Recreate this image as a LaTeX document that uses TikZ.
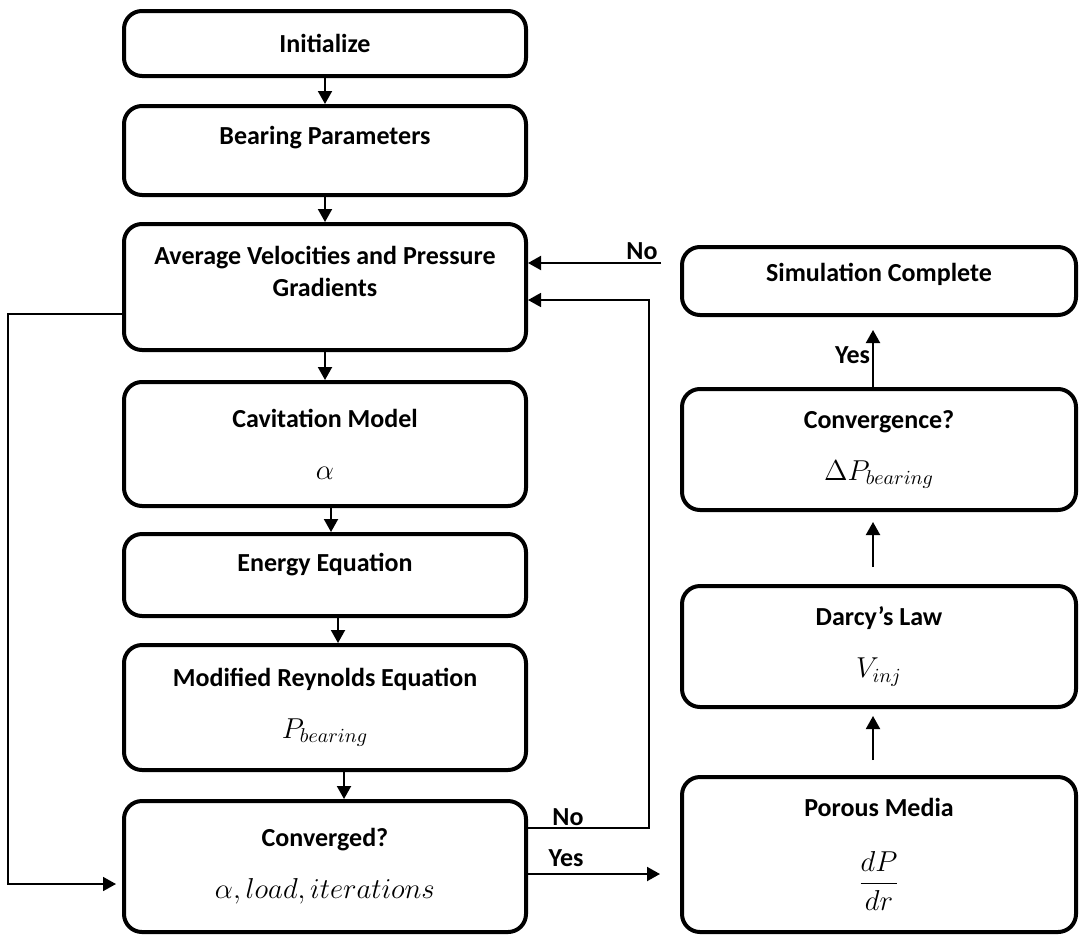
\documentclass[tikz,border=0pt]{standalone}
\usepackage{fontspec}
\setmainfont{Carlito}
\usetikzlibrary{arrows.meta,calc}

\newcommand{\mathlbl}[1]{{\fontsize{14}{16}\selectfont$#1$}}

\tikzset{
  box/.style={draw, line width=2pt, rounded corners=9pt, inner sep=0pt, align=center,
    font=\fontsize{13}{16}\selectfont\bfseries},
  lbox/.style={box, minimum width=201pt},
  rbox/.style={box, minimum width=197pt},
  flow/.style={line width=1pt, -{Triangle[length=6.5pt,width=7pt]}},
  back/.style={line width=0.8pt, -{Triangle[length=6.5pt,width=7pt]}},
  tag/.style={font=\fontsize{13}{16}\selectfont\bfseries, inner sep=1pt}
}

\begin{document}
\begin{tikzpicture}[x=0.5pt,y=-0.5pt]
	\useasboundingbox (0,0) rectangle (1080,937);
	% solver loop
	\node [lbox, minimum height=32.5pt] (init) at (325,43.5) {Initialize};
	\node [lbox, minimum height=44.5pt, text depth=15pt] (bear) at (325,150.5) {Bearing Parameters};
	\node [lbox, minimum height=63pt, text depth=16pt] (avg) at (325,287) {Average Velocities and Pressure\\Gradients};
	\node [lbox, minimum height=62pt] (cav) at (325,444) {Cavitation Model\\[10pt]\mathlbl{\alpha}};
	\node [lbox, minimum height=41pt, text depth=13pt] (ene) at (325,575) {Energy Equation};
	\node [lbox, minimum height=62.5pt] (mod) at (325,707.5) {Modified Reynolds Equation\\[10pt]\mathlbl{P_{bearing}}};
	\node [lbox, minimum height=65.5pt] (conv) at (325,866.5) {Converged?\\[10pt]\mathlbl{\alpha, load, iterations}};
	% porous side
	\node [rbox, minimum height=34pt, text depth=9pt] (sim) at (879,281) {Simulation Complete};
	\node [rbox, minimum height=60.5pt] (cvg) at (879,449.5) {Convergence?\\[10pt]\mathlbl{\Delta P_{bearing}}};
	\node [rbox, minimum height=60.5pt] (darcy) at (879,646.5) {Darcy’s Law\\[10pt]\mathlbl{V_{inj}}};
	\node [rbox, minimum height=77.5pt] (por) at (879,854.5) {Porous Media\\[16pt]\mathlbl{\displaystyle\frac{dP}{dr}}};

	\draw [flow] (init.south) -- (bear.north);
	\draw [flow] (bear.south) -- (avg.north);
	\draw [flow] (avg.south) -- (cav.north);
	\draw [flow] ([xshift=3pt]cav.south) -- ([xshift=3pt]ene.north);
	\draw [flow] ([xshift=6.5pt]ene.south) -- ([xshift=6.5pt]mod.north);
	\draw [flow] ([xshift=9.5pt]mod.south) -- ([xshift=9.5pt]conv.north);

	\draw [back, shorten >=3pt] ($(avg.west)+(0,27)$) -- ++(-114,0) |- ($(conv.west)+(0,17.5)$);
	\draw [back] ($(conv.east)+(0,-38.5)$) -- node [tag, above, pos=.33] {No} ++(121,0) |- ($(avg.east)+(0,13)$);
	\draw [flow, shorten >=10pt] ($(conv.east)+(0,7.5)$) -- node [tag, above=2pt, pos=.25] {Yes} ($(por.west)+(0,19.5)$);

	\draw [flow, shorten <=7.5pt, shorten >=3.5pt] ([xshift=-3pt]por.north) -- ([xshift=-3pt]darcy.south);
	\draw [flow, shorten <=8.5pt, shorten >=5pt] ([xshift=-3pt]darcy.north) -- ([xshift=-3pt]cvg.south);
	\draw [flow, shorten >=6.5pt] ([xshift=-3pt]cvg.north) -- node [tag, left, pos=.45] {Yes} ([xshift=-3pt]sim.south);
	\draw [flow, shorten <=9.5pt] ($(sim.west)+(0,-18)$) -- node [tag, above, pos=.25] {No} ($(avg.east)+(0,-24)$);
\end{tikzpicture}
\end{document}
